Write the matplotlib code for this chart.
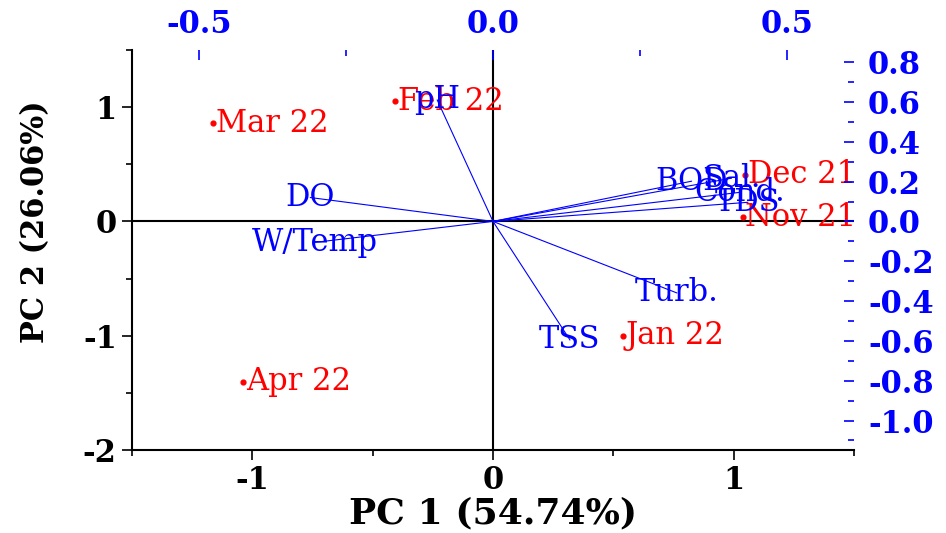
import matplotlib
matplotlib.use("Agg")
import matplotlib.pyplot as plt
from matplotlib.ticker import MultipleLocator, FixedLocator

# ---- data ----
months = ["Mar 22", "Feb 22", "Dec 21", "Nov 21", "Jan 22", "Apr 22"]
pc1_scores = [-1.162, -0.407, 1.046, 1.037, 0.539, -1.037]
pc2_scores = [0.860, 1.053, 0.410, 0.035, -1.000, -1.404]

params = ["pH", "DO", "W/Temp", "Turb.", "TSS", "BOD", "Sal.", "Cond.", "TDS"]
load1 = [-0.095, -0.311, -0.303, 0.313, 0.131, 0.338, 0.406, 0.420, 0.434]
load2 = [0.610, 0.120, -0.105, -0.359, -0.595, 0.202, 0.217, 0.146, 0.096]

bottom_ticks = [-1, 0, 1]
left_ticks = [-2, -1, 0, 1]
top_ticks = [-0.5, 0.0, 0.5]
right_ticks = [-1.0, -0.8, -0.6, -0.4, -0.2, 0.0, 0.2, 0.4, 0.6, 0.8]

RED = "#ff0000"
BLUE = "#0000ff"
FONT = "DejaVu Serif"

fig = plt.figure(figsize=(9.46, 5.33), dpi=100)
pos = [132 / 946, 1 - 450 / 533, (854 - 132) / 946, 400 / 533]
ax = fig.add_axes(pos)
ax2 = fig.add_axes(pos, frameon=False)

xlim = (-1.5, 1.5)
ylim = (-2.0, 1.5)
kx = 241 / 588
ky = 0.574
ax.set_xlim(*xlim)
ax.set_ylim(*ylim)
ax2.set_xlim(xlim[0] * kx, xlim[1] * kx)
ax2.set_ylim(ylim[0] * ky, ylim[1] * ky)

# zero lines
ax.axhline(0, color="black", lw=1.5, zorder=1)
ax.axvline(0, color="black", lw=1.5, zorder=1)

# scores
ax.scatter(pc1_scores, pc2_scores, s=12, color=RED, zorder=3)
for x, y, lab in zip(pc1_scores, pc2_scores, months):
    ax.annotate(lab, (x, y), xytext=(2, 0), textcoords="offset points",
                ha="left", va="center", color=RED, fontsize=22, family=FONT,
                zorder=4)

# loadings
for x, y, lab in zip(load1, load2, params):
    ax2.plot([0, x], [0, y], color=BLUE, lw=0.8, zorder=2)
    ax2.text(x, y, lab, ha="center", va="center", color=BLUE, fontsize=22,
             family=FONT, zorder=4)

# primary axes styling
for side in ["top", "right"]:
    ax.spines[side].set_visible(False)
for side in ["left", "bottom"]:
    ax.spines[side].set_linewidth(1.5)
    ax.spines[side].set_color("black")
ax.xaxis.set_major_locator(FixedLocator(bottom_ticks))
ax.xaxis.set_minor_locator(MultipleLocator(0.5))
ax.yaxis.set_major_locator(FixedLocator(left_ticks))
ax.yaxis.set_minor_locator(MultipleLocator(0.5))
ax.tick_params(which="both", direction="out", width=1.2, colors="black")
ax.tick_params(which="major", length=7, labelsize=22, pad=4)
ax.tick_params(which="minor", length=4)
ax.set_xticklabels([f"{t:g}" for t in bottom_ticks])
ax.set_yticklabels([f"{t:g}" for t in left_ticks])
for lbl in ax.get_xticklabels() + ax.get_yticklabels():
    lbl.set_fontfamily(FONT)
    lbl.set_fontweight("bold")
ax.set_xlabel("PC 1 (54.74%)", fontsize=26, fontweight="bold", family=FONT,
              labelpad=0)
ax.set_ylabel("PC 2 (26.06%)", fontsize=22, fontweight="bold", family=FONT)
ax.yaxis.set_label_coords(-0.112, 0.57)

# secondary axes styling
ax2.patch.set_visible(False)
ax2.xaxis.set_ticks_position("top")
ax2.xaxis.set_label_position("top")
ax2.yaxis.set_ticks_position("right")
ax2.yaxis.set_label_position("right")
ax2.spines["top"].set_visible(True)
ax2.spines["right"].set_visible(True)
ax2.spines["top"].set_color(BLUE)
ax2.spines["right"].set_color(BLUE)
ax2.spines["top"].set_linewidth(2)
ax2.spines["right"].set_linewidth(2)
ax2.spines["left"].set_visible(False)
ax2.spines["bottom"].set_visible(False)
ax2.xaxis.set_major_locator(FixedLocator(top_ticks))
ax2.xaxis.set_minor_locator(MultipleLocator(0.25))
ax2.yaxis.set_major_locator(FixedLocator(right_ticks))
ax2.yaxis.set_minor_locator(MultipleLocator(0.1))
ax2.tick_params(which="both", direction="in", width=1.2, colors=BLUE)
ax2.tick_params(which="major", length=7, labelsize=22)
ax2.tick_params(axis="x", which="major", pad=7)
ax2.tick_params(axis="y", which="major", pad=10)
ax2.tick_params(which="minor", length=4)
ax2.set_xticklabels([f"{t:.1f}" for t in top_ticks])
ax2.set_yticklabels([f"{t:.1f}" for t in right_ticks])
for lbl in ax2.get_xticklabels() + ax2.get_yticklabels():
    lbl.set_fontfamily(FONT)
    lbl.set_fontweight("bold")
    lbl.set_color(BLUE)

fig.savefig("out.png", dpi=100)
